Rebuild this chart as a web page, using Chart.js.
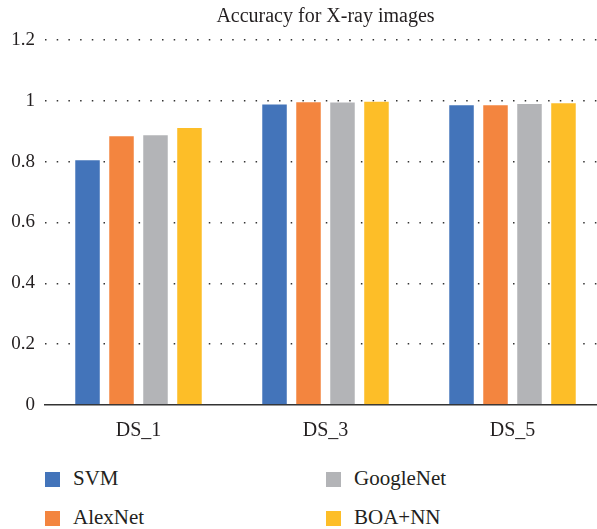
<!DOCTYPE html>
<html>
<head>
<meta charset="utf-8">
<script src="https://cdn.jsdelivr.net/npm/chart.js@4.4.0/dist/chart.umd.min.js"></script>
<style>
  html, body { margin: 0; padding: 0; background: #fff; overflow: hidden; }
  #wrap { position: relative; width: 597px; height: 529px; overflow: hidden; }
  #holder { position: absolute; left: 0; top: 0; width: 651px; height: 450px; }
  .leg { position: absolute; font-family: "Liberation Serif", "DejaVu Serif", serif; font-size: 21px; line-height: 24px; color: #231F20; white-space: nowrap; }
  .box { position: absolute; width: 15px; height: 15px; }
</style>
</head>
<body>
<div id="wrap">
  <div id="holder"><canvas id="c" width="651" height="450"></canvas></div>
  <div id="legend"></div>
</div>
<script>
const categories = ["DS_1", "DS_3", "DS_5"];
const seriesNames = ["SVM", "AlexNet", "GoogleNet", "BOA+NN"];
const svm = [0.808, 0.991, 0.989];
const alexnet = [0.887, 0.999, 0.989];
const googlenet = [0.890, 0.998, 0.993];
const boaNN = [0.914, 1.0, 0.995];
const yTicks = [0, 0.2, 0.4, 0.6, 0.8, 1, 1.2];
const colors = ["#4374BA", "#F3853F", "#B3B4B7", "#FDBE28"];
const titleText = "Accuracy for X-ray images";

const values = [svm, alexnet, googlenet, boaNN];
const datasets = seriesNames.map((n, i) => ({
  label: n,
  data: values[i],
  backgroundColor: colors[i],
  borderColor: "rgba(255,255,255,0.35)",
  borderWidth: 1,
  categoryPercentage: 0.727,
  barPercentage: 0.78,
  yAxisID: "y"
}));

const serif = "'Liberation Serif', 'DejaVu Serif', serif";
const textColor = "#231F20";
Chart.defaults.font.family = serif;
Chart.defaults.color = textColor;

new Chart(document.getElementById("c"), {
  type: "bar",
  data: { labels: categories, datasets },
  options: {
    responsive: false,
    animation: false,
    layout: { padding: 0 },
    plugins: {
      legend: { display: false },
      tooltip: { enabled: false },
      title: {
        display: true,
        text: titleText,
        color: textColor,
        font: { family: serif, size: 20, weight: "normal" },
        padding: { top: 5, bottom: 11 }
      }
    },
    scales: {
      x: {
        grid: { display: false, drawTicks: false },
        border: { display: true, color: "#333333", width: 1.5 },
        ticks: { color: textColor, font: { family: serif, size: 20 }, padding: 14 },
        afterFit: s => { s.height = 45; }
      },
      y: {
        position: "left",
        min: 0, max: 1.2,
        afterBuildTicks: s => { s.ticks = yTicks.map(v => ({ value: v })); },
        ticks: {
          color: textColor,
          font: { family: serif, size: 19 },
          padding: 10,
          callback: v => String(Math.round(v * 10) / 10)
        },
        grid: {
          drawTicks: false,
          color: ctx => (ctx.tick && ctx.tick.value === 0) ? "rgba(0,0,0,0)" : "#333333",
          lineWidth: 1.5,
        },
        border: { display: false, dash: [1.5, 10.2] },
        afterFit: s => { s.width = 45; }
      },
      y2: {
        position: "right",
        display: true,
        min: 0, max: 1.2,
        grid: { display: false, drawTicks: false },
        border: { display: false },
        ticks: { display: false },
        afterFit: s => { s.width = 45; }
      }
    }
  }
});

// legend (two columns, Excel-style order)
const legendPos = [
  { i: 0, x: 45, y: 472 },
  { i: 2, x: 326, y: 472 },
  { i: 1, x: 45, y: 511 },
  { i: 3, x: 326, y: 511 }
];
const leg = document.getElementById("legend");
legendPos.forEach(p => {
  const b = document.createElement("div");
  b.className = "box";
  b.style.left = p.x + "px"; b.style.top = p.y + "px";
  b.style.background = colors[p.i];
  leg.appendChild(b);
  const t = document.createElement("div");
  t.className = "leg";
  t.textContent = seriesNames[p.i];
  t.style.left = (p.x + 28) + "px";
  t.style.top = (p.y - 6) + "px";
  leg.appendChild(t);
});
</script>
</body>
</html>
